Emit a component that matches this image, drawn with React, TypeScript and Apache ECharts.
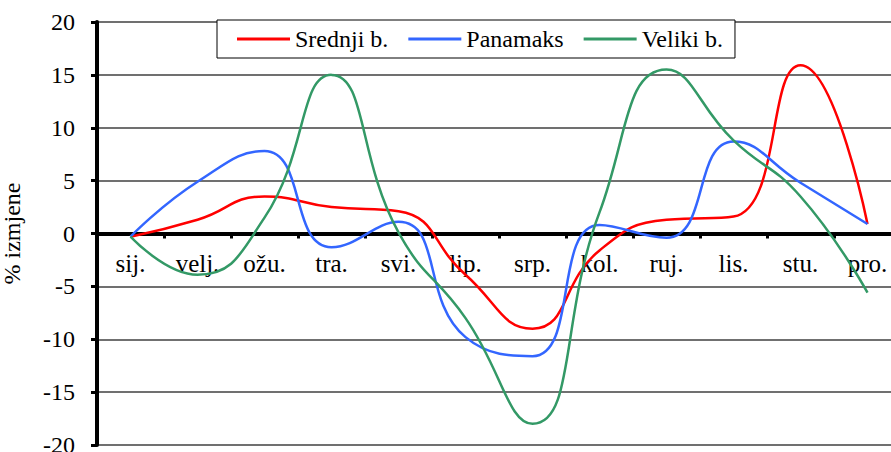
import React, { useEffect, useRef } from "react";
import * as echarts from "echarts";

const months = ["sij.", "velj.", "ožu.", "tra.", "svi.", "lip.", "srp.", "kol.", "ruj.", "lis.", "stu.", "pro."];
const srednji = [-0.3, 1.3, 3.5, 2.5, 2.1, -3.9, -9.0, -1.6, 1.3, 1.6, 15.9, 0.9];
const panamaks = [-0.3, 4.9, 7.8, -1.3, 1.1, -9.8, -11.6, 0.8, -0.4, 8.7, 4.8, 0.9];
const veliki = [-0.3, -3.9, 1.5, 15.0, 0.1, -8.0, -18.0, 2.0, 15.5, 8.8, 3.5, -5.6];
const seriesNames = ["Srednji b.", "Panamaks", "Veliki b."];
const seriesColors = ["#FF0000", "#3366FF", "#339966"];
const yTitle = "% izmjene";

const FONT = "Liberation Serif";

export default function App() {
  const ref = useRef<HTMLDivElement>(null);
  useEffect(() => {
    if (!ref.current) return;
    const chart = echarts.init(ref.current, undefined, { renderer: "svg" });
    const data = [srednji, panamaks, veliki];
    chart.setOption({
      animation: false,
      backgroundColor: "#ffffff",
      textStyle: { fontFamily: FONT },
      grid: {
        left: 97,
        top: 22,
        width: 804,
        height: 423,
        containLabel: false,
        outerBoundsMode: "none",
      },
      legend: {
        left: 217,
        top: 20,
        orient: "horizontal",
        backgroundColor: "#ffffff",
        borderColor: "#000000",
        borderWidth: 1,
        borderRadius: 0,
        padding: [7, 12, 7, 20],
        itemGap: 20,
        itemWidth: 53,
        itemHeight: 3,
        icon: "rect",
        textStyle: { fontFamily: FONT, fontSize: 24, color: "#000" },
        data: seriesNames,
      },
      xAxis: {
        type: "category",
        data: months,
        boundaryGap: true,
        position: "bottom",
        offset: -211.5,
        axisLine: { onZero: false, lineStyle: { color: "#000", width: 4 } },
        axisTick: { show: true, length: 5, lineStyle: { color: "#000", width: 3 } },
        axisLabel: { fontFamily: FONT, fontSize: 25, color: "#000", margin: 17 },
        splitLine: { show: false },
      },
      yAxis: {
        type: "value",
        min: -20,
        max: 20,
        interval: 5,
        name: yTitle,
        nameLocation: "middle",
        nameRotate: 90,
        nameGap: 73,
        nameTextStyle: { fontFamily: FONT, fontSize: 24, color: "#000" },
        axisLine: { show: true, lineStyle: { color: "#000", width: 4 } },
        axisTick: { show: true, length: 6, lineStyle: { color: "#000", width: 3 } },
        axisLabel: { fontFamily: FONT, fontSize: 24, color: "#000", margin: 22 },
        splitLine: { show: true, lineStyle: { color: "#404040", width: 1.5 } },
      },
      series: seriesNames.map((n, i) => ({
        name: n,
        type: "line",
        data: data[i],
        smooth: 0.5,
        symbol: "none",
        color: seriesColors[i],
        lineStyle: { color: seriesColors[i], width: 2.5 },
        z: 3 + i,
      })),
    });
    return () => chart.dispose();
  }, []);
  return (
    <div
      ref={ref}
      style={{ position: "fixed", left: 0, top: 0, width: 891, height: 452 }}
    />
  );
}
